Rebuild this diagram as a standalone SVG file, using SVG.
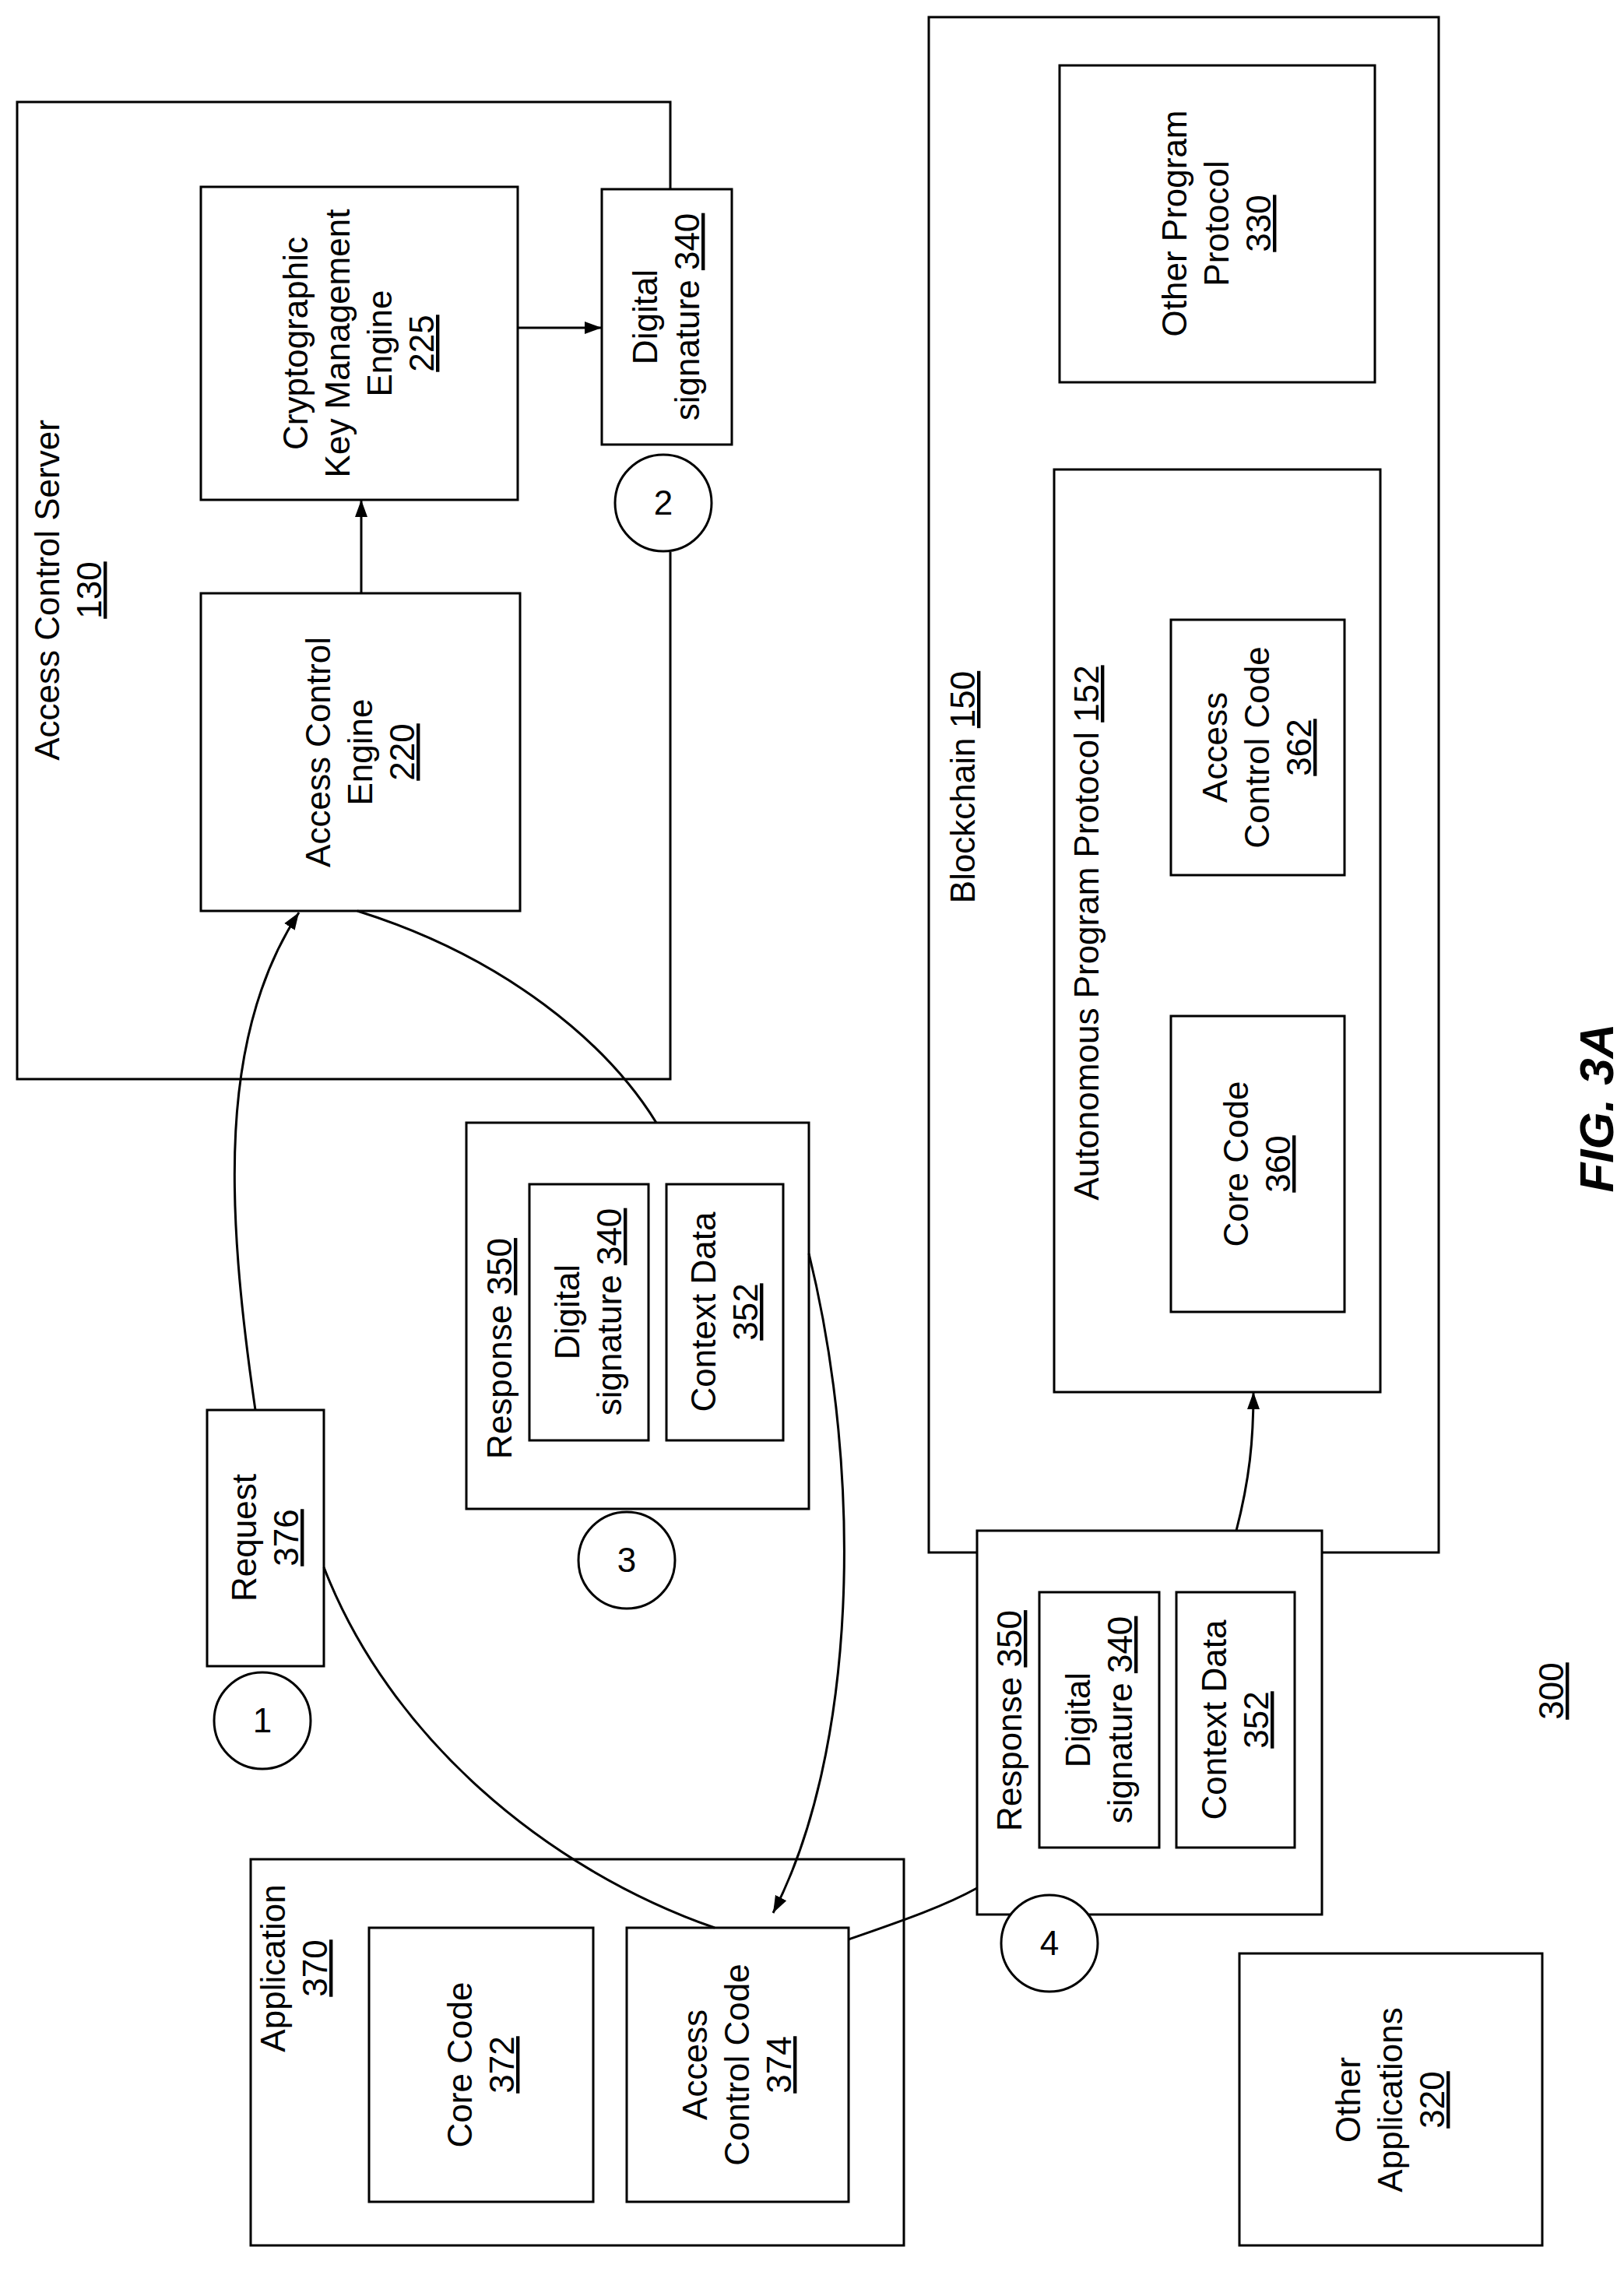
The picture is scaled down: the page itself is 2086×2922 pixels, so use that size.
<svg xmlns="http://www.w3.org/2000/svg" width="2086" height="2922" viewBox="0 0 2086 2922">
<style>
.b{fill:none;stroke:#000;stroke-width:3}
.c{fill:#fff;stroke:#000;stroke-width:3}
.l{fill:none;stroke:#000;stroke-width:3}
text{font-family:"Liberation Sans",Arial,sans-serif;font-size:44px;fill:#000;text-anchor:middle}
.u{text-decoration:underline}
</style>
<defs>
<marker id="ah" markerWidth="24" markerHeight="20" refX="22" refY="10" orient="auto" markerUnits="userSpaceOnUse"><path d="M0,2L22,10L0,18z"/></marker></defs>
<g id="server">
<path class="l" d="M861,243V131H22V1386H861V709"/>
<text transform="translate(76,758) rotate(-90)"><tspan x="0" dy="0">Access Control Server</tspan><tspan x="0" dy="54" class="u">130</tspan></text>
</g>
<g id="engine"><rect class="b" x="258" y="762" width="410" height="408"/>
<text transform="translate(463,966) rotate(-90)"><tspan x="0" dy="-39">Access Control</tspan><tspan x="0" dy="54">Engine</tspan><tspan x="0" dy="54" class="u">220</tspan></text></g>
<g id="crypto"><rect class="b" x="258" y="240" width="407" height="402"/>
<text transform="translate(461,441) rotate(-90)"><tspan x="0" dy="-66">Cryptographic</tspan><tspan x="0" dy="54">Key Management</tspan><tspan x="0" dy="54">Engine</tspan><tspan x="0" dy="54" class="u">225</tspan></text></g>
<g id="sig340"><rect class="c" x="773" y="243" width="167" height="328"/>
<text transform="translate(856,407) rotate(-90)"><tspan x="0" dy="-12">Digital</tspan><tspan x="0" dy="54">signature <tspan class="u">340</tspan></tspan></text></g>
<g id="c2"><circle class="c" cx="852" cy="646" r="62"/><text x="852" y="661">2</text></g>
<g id="blockchain"><rect class="b" x="1193" y="22" width="655" height="1972"/>
<text transform="translate(1252,1011) rotate(-90)">Blockchain <tspan class="u">150</tspan></text></g>
<g id="app152"><rect class="b" x="1354" y="603" width="419" height="1185"/>
<text transform="translate(1411,1198) rotate(-90)">Autonomous Program Protocol <tspan class="u">152</tspan></text></g>
<g id="acc362"><rect class="b" x="1504" y="796" width="223" height="328"/>
<text transform="translate(1615,960) rotate(-90)"><tspan x="0" dy="-39">Access</tspan><tspan x="0" dy="54">Control Code</tspan><tspan x="0" dy="54" class="u">362</tspan></text></g>
<g id="core360"><rect class="b" x="1504" y="1305" width="223" height="380"/>
<text transform="translate(1615,1495) rotate(-90)"><tspan x="0" dy="-12">Core Code</tspan><tspan x="0" dy="54" class="u">360</tspan></text></g>
<g id="other330"><rect class="b" x="1361" y="84" width="405" height="407"/>
<text transform="translate(1563,287) rotate(-90)"><tspan x="0" dy="-39">Other Program</tspan><tspan x="0" dy="54">Protocol</tspan><tspan x="0" dy="54" class="u">330</tspan></text></g>
<g id="resp1"><rect class="b" x="599" y="1442" width="440" height="496"/>
<text transform="translate(657,1732) rotate(-90)">Response <tspan class="u">350</tspan></text>
<rect class="b" x="680" y="1521" width="153" height="329"/>
<text transform="translate(756,1685) rotate(-90)"><tspan x="0" dy="-12">Digital</tspan><tspan x="0" dy="54">signature <tspan class="u">340</tspan></tspan></text>
<rect class="b" x="856" y="1521" width="150" height="329"/>
<text transform="translate(931,1685) rotate(-90)"><tspan x="0" dy="-12">Context Data</tspan><tspan x="0" dy="54" class="u">352</tspan></text></g>
<g id="c3"><circle class="c" cx="805" cy="2004" r="62"/><text x="805" y="2019">3</text></g>
<g id="req"><rect class="b" x="266" y="1811" width="150" height="329"/>
<text transform="translate(341,1975) rotate(-90)"><tspan x="0" dy="-12">Request</tspan><tspan x="0" dy="54" class="u">376</tspan></text></g>
<g id="c1"><circle class="c" cx="337" cy="2210" r="62"/><text x="337" y="2225">1</text></g>
<g id="app370"><rect class="b" x="322" y="2388" width="839" height="496"/>
<text transform="translate(378,2528) rotate(-90)"><tspan x="0" dy="-12">Application</tspan><tspan x="0" dy="54" class="u">370</tspan></text>
<rect class="b" x="474" y="2476" width="288" height="352"/>
<text transform="translate(618,2652) rotate(-90)"><tspan x="0" dy="-12">Core Code</tspan><tspan x="0" dy="54" class="u">372</tspan></text>
<rect class="b" x="805" y="2476" width="285" height="352"/>
<text transform="translate(947,2652) rotate(-90)"><tspan x="0" dy="-39">Access</tspan><tspan x="0" dy="54">Control Code</tspan><tspan x="0" dy="54" class="u">374</tspan></text></g>
<g id="resp2"><rect class="c" x="1255" y="1966" width="443" height="493"/>
<text transform="translate(1312,2210) rotate(-90)">Response <tspan class="u">350</tspan></text>
<rect class="b" x="1335" y="2045" width="154" height="328"/>
<text transform="translate(1412,2209) rotate(-90)"><tspan x="0" dy="-12">Digital</tspan><tspan x="0" dy="54">signature <tspan class="u">340</tspan></tspan></text>
<rect class="b" x="1511" y="2045" width="152" height="328"/>
<text transform="translate(1587,2209) rotate(-90)"><tspan x="0" dy="-12">Context Data</tspan><tspan x="0" dy="54" class="u">352</tspan></text></g>
<g id="c4"><circle class="c" cx="1348" cy="2496" r="62"/><text x="1348" y="2511">4</text></g>
<g id="other320"><rect class="b" x="1592" y="2509" width="389" height="375"/>
<text transform="translate(1786,2697) rotate(-90)"><tspan x="0" dy="-39">Other</tspan><tspan x="0" dy="54">Applications</tspan><tspan x="0" dy="54" class="u">320</tspan></text></g>
<text class="u" transform="translate(2008,2172) rotate(-90)">300</text>
<text transform="translate(2072,1423) rotate(-90)" style="font-size:62px;font-weight:bold;font-style:italic">FIG. 3A</text>
<g id="connectors">
<path class="l" d="M665,421H773" marker-end="url(#ah)"/>
<path class="l" d="M464,762V642" marker-end="url(#ah)"/>
<path class="l" d="M328,1811C290,1550 280,1330 384,1172" marker-end="url(#ah)"/>
<path class="l" d="M416,2013C500,2230 700,2400 918,2476"/>
<path class="l" d="M459,1170C650,1230 780,1340 843,1442"/>
<path class="l" d="M1039,1610C1110,1900 1100,2250 993,2457" marker-end="url(#ah)"/>
<path class="l" d="M1090,2491C1150,2470 1210,2450 1255,2425"/>
<path class="l" d="M1588,1966C1605,1900 1610,1850 1610,1788" marker-end="url(#ah)"/>
</g>
</svg>
